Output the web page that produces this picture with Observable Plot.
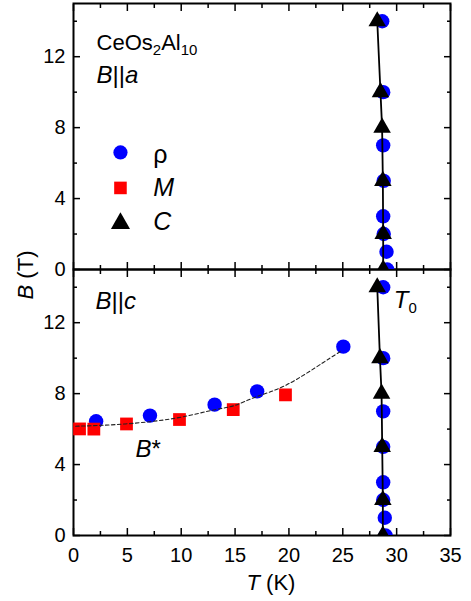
<!DOCTYPE html>
<html><head><meta charset="utf-8">
<script src="https://cdn.jsdelivr.net/npm/d3@7"></script>
<script src="https://cdn.jsdelivr.net/npm/@observablehq/plot@0.6"></script>
<style>body{margin:0;background:#fff} #chart{width:471px;height:601px;position:relative}</style>
</head><body><div id="chart"></div>
<script>
// ---- data ----
const panels = ["a", "c"];
// B || a panel
const rhoA_T = [28.66, 28.75, 28.75, 28.8, 28.75, 28.8, 29.06, 29.12];
const rhoA_B = [14, 10, 7, 5, 3, 2, 1, 0];
const CA_T = [28.2, 28.5, 28.65, 28.72, 28.75, 28.75];
const CA_B = [14, 10, 8, 5, 2, 0];
// B || c panel
const rhoC_T = [28.75, 28.75, 28.75, 28.75, 28.75, 28.75, 28.9, 28.97];
const rhoC_B = [14, 10, 7, 5, 3, 2, 1, 0];
const CC_T = [28.2, 28.45, 28.6, 28.66, 28.72, 28.72];
const CC_B = [14, 10, 8, 5, 2, 0];
// B* line (B || c)
const rhoStar_T = [2.1, 7.1, 13.1, 17.05, 25.05];
const rhoStar_B = [6.44, 6.76, 7.38, 8.13, 10.65];
const MStar_T = [0.56, 1.89, 4.92, 9.84, 14.83, 19.68];
const MStar_B = [6.01, 6.0, 6.29, 6.54, 7.1, 7.93];
const fit_T = [0.2, 4.8, 9.6, 13.0, 14.9, 17.0, 19.8, 23.2, 24.85];
const fit_B = [6.16, 6.29, 6.63, 7.08, 7.32, 7.83, 8.5, 9.76, 10.4];
// ticks
const xMajor = [0, 5, 10, 15, 20, 25, 30, 35];
const xMinor = [2.5, 7.5, 12.5, 17.5, 22.5, 27.5, 32.5];
const yMajor = [0, 4, 8, 12];
const yMinor = [2, 6, 10, 14];
// legend (B || a panel)
const legendLabels = ["ρ", "M", "C"];
const legendSymbols = ["circle", "square", "triangle"];
const legendColors = ["#0000ff", "#ff0000", "#000000"];
const legendT = [4.36, 4.36, 4.36];
const legendB = [6.6, 4.6, 2.6];
const legendLabelT = [7.4, 7.4, 7.4];
const legendLabelB = [6.45, 4.62, 2.68];
// annotations
const annotText = ["CeOs2Al10", "B||a", "B||c", "T0", "B*"];
const annotPanel = ["a", "a", "c", "c", "c"];
const annotT = [2.14, 2.14, 2.04, 29.74, 5.76];
const annotB = [12.77, 10.95, 13.18, 13.24, 4.85];
const annotSize = [22, 24, 24, 24, 24];

// ---- tables ----
const tbl = (T, B, panel) => T.map((t, i) => ({T: t, B: B[i], panel}));
const rho = [...tbl(rhoA_T, rhoA_B, "a"), ...tbl(rhoC_T, rhoC_B, "c"), ...tbl(rhoStar_T, rhoStar_B, "c")];
const M = tbl(MStar_T, MStar_B, "c");
const C = [...tbl(CA_T, CA_B, "a"), ...tbl(CC_T, CC_B, "c")];
const fit = tbl(fit_T, fit_B, "c");
const legend = legendLabels.map((l, i) => ({label: l, symbol: legendSymbols[i], color: legendColors[i],
  T: legendT[i], B: legendB[i], LT: legendLabelT[i], LB: legendLabelB[i], panel: "a"}));
const annots = annotText.map((t, i) => ({text: t, panel: annotPanel[i], T: annotT[i], B: annotB[i], size: annotSize[i]}));

const FONT = "'Liberation Sans', Arial, sans-serif";
const empty = () => "";

const chart = Plot.plot({
  width: 471, height: 601,
  marginTop: 2, marginBottom: 66, marginLeft: 73, marginRight: 21,
  x: {domain: [0, 35]},
  y: {domain: [0, 15]},
  fy: {domain: panels, padding: 0, axis: null},
  style: {fontFamily: FONT, fontSize: "20px", color: "black", background: "white"},
  marks: [
    // inward ticks on all four sides of every panel
    Plot.axisX(xMajor, {anchor: "bottom", tickSize: -7, tickFormat: empty, label: null, facetAnchor: null, strokeWidth: 1.5}),
    Plot.axisX(xMinor, {anchor: "bottom", tickSize: -4, tickFormat: empty, label: null, facetAnchor: null, strokeWidth: 1.5}),
    Plot.axisX(xMajor, {anchor: "top", tickSize: -7, tickFormat: empty, label: null, facetAnchor: null, strokeWidth: 1.5}),
    Plot.axisX(xMinor, {anchor: "top", tickSize: -4, tickFormat: empty, label: null, facetAnchor: null, strokeWidth: 1.5}),
    Plot.axisY(yMajor, {anchor: "left", tickSize: -7, tickFormat: empty, label: null, facetAnchor: null, strokeWidth: 1.5}),
    Plot.axisY(yMinor, {anchor: "left", tickSize: -4, tickFormat: empty, label: null, facetAnchor: null, strokeWidth: 1.5}),
    Plot.axisY(yMajor, {anchor: "right", tickSize: -7, tickFormat: empty, label: null, facetAnchor: null, strokeWidth: 1.5}),
    Plot.axisY(yMinor, {anchor: "right", tickSize: -4, tickFormat: empty, label: null, facetAnchor: null, strokeWidth: 1.5}),
    // tick labels
    Plot.axisX(xMajor, {anchor: "bottom", tickSize: 0, tickPadding: 12, label: null, fontSize: 20}),
    Plot.axisY(yMajor, {anchor: "left", tickSize: 0, tickPadding: 8, label: null, fontSize: 20, facetAnchor: null}),
    Plot.frame({stroke: "black", strokeWidth: 2}),
    // data
    Plot.dot(rho, {x: "T", y: "B", fy: "panel", symbol: "circle", r: 7.2, fill: "#0000ff", clip: true}),
    Plot.dot(M, {x: "T", y: "B", fy: "panel", symbol: "square", r: 7.2, fill: "#ff0000", clip: true}),
    Plot.line(fit, {x: "T", y: "B", fy: "panel", curve: "natural", stroke: "#222", strokeWidth: 1.1, strokeDasharray: "3.5,2.5", clip: true}),
    Plot.line(C, {x: "T", y: "B", fy: "panel", z: "panel", stroke: "black", strokeWidth: 1.8, clip: true}),
    Plot.dot(C, {x: "T", y: "B", fy: "panel", symbol: "triangle", r: 6.5, fill: "black", clip: true}),
    // legend
    Plot.dot(legend, {x: "T", y: "B", fy: "panel", symbol: "symbol", fill: "color", r: 7.1}),
    Plot.text(legend, {x: "LT", y: "LB", fy: "panel", text: "label", textAnchor: "start", lineAnchor: "middle", fontSize: 25}),
    // annotations
    Plot.text(annots, {x: "T", y: "B", fy: "panel", text: "text", textAnchor: "start", lineAnchor: "middle", fontSize: "size"})
  ]
});
document.getElementById("chart").appendChild(chart);

// ---- rich text (italics / subscripts) ----
const rich = {
  "CeOs2Al10": [["CeOs"], ["2", "sub"], ["Al", "up"], ["10", "sub"]],
  "B||a": [["B", "i"], ["||"], ["a", "i"]],
  "B||c": [["B", "i"], ["||"], ["c", "i"]],
  "T0": [["T", "i"], ["0", "sub"]],
  "B*": [["B", "i"], ["*"]],
  "M": [["M", "i"]],
  "C": [["C", "i"]]
};
const svg = d3.select(chart);
svg.selectAll("text").each(function () {
  const el = d3.select(this);
  if (el.selectAll("tspan").size() > 0) return;
  const parts = rich[el.text()];
  if (!parts) return;
  el.text("");
  let shifted = 0;
  for (const [t, kind] of parts) {
    const ts = el.append("tspan").text(t);
    if (kind === "i") ts.attr("font-style", "italic");
    if (kind === "sub") { ts.attr("font-size", 15).attr("dy", 5); shifted += 5; }
    else if (shifted) { ts.attr("dy", -shifted); shifted = 0; }
  }
});

// ---- axis titles ----
const ytitle = svg.append("text")
  .attr("transform", "translate(33,275) rotate(-90)")
  .attr("text-anchor", "middle").attr("font-family", FONT).attr("font-size", 22).attr("fill", "black");
ytitle.append("tspan").attr("font-style", "italic").text("B");
ytitle.append("tspan").text(" (T)");
const xtitle = svg.append("text")
  .attr("x", 271).attr("y", 590)
  .attr("text-anchor", "middle").attr("font-family", FONT).attr("font-size", 22).attr("fill", "black");
xtitle.append("tspan").attr("font-style", "italic").text("T");
xtitle.append("tspan").text(" (K)");
</script></body></html>
